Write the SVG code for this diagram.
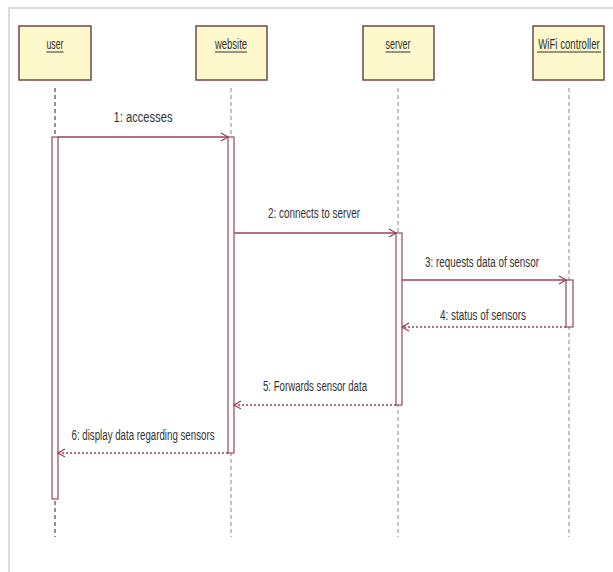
<svg xmlns="http://www.w3.org/2000/svg" width="613" height="572" viewBox="0 0 613 572">
<style>
.frame{stroke:#dcdcdc;stroke-width:2;fill:none}
.box{fill:#fdf9cc;stroke:#6e4a48;stroke-width:1.5}
.lbl{font-family:"Liberation Sans Narrow","Liberation Sans",Arial,sans-serif;font-size:14px;fill:#333;text-anchor:middle}
.ul{stroke:#333;stroke-width:1}
.life{stroke:#888;stroke-width:1;stroke-dasharray:4,3;fill:none}
.life.dark{stroke:#222}
.act{fill:#fff;stroke:#8b4a62;stroke-width:1.2}
.msg{stroke:#9c3f63;stroke-width:1.4;fill:none}
.ret{stroke:#9c3f63;stroke-width:1.4;fill:none;stroke-dasharray:2,2}
.mtext{font-family:"Liberation Sans Narrow","Liberation Sans",Arial,sans-serif;font-size:14px;fill:#333;text-anchor:middle}
</style>
<defs>
<marker id="open" markerWidth="10" markerHeight="10" refX="8" refY="5" orient="auto" markerUnits="userSpaceOnUse">
<path d="M1,1 L8,5 L1,9" fill="none" stroke="#9c3f63" stroke-width="1.3"/>
</marker>
</defs>
<rect width="613" height="572" fill="#fff"/>
<path class="frame" d="M9,572 L9,8 L613,8"/>

<g id="user">
<rect class="box" x="19" y="26" width="72" height="54"/>
<text class="lbl" x="55" y="49" textLength="17" lengthAdjust="spacingAndGlyphs">user</text>
<line class="ul" x1="46.5" y1="52" x2="63.5" y2="52"/>
<line class="life dark" x1="55" y1="88" x2="55" y2="537"/>
<rect class="act" x="52" y="137" width="6" height="362"/>
</g>
<g id="website">
<rect class="box" x="196" y="26" width="71" height="54"/>
<text class="lbl" x="231" y="49" textLength="32" lengthAdjust="spacingAndGlyphs">website</text>
<line class="ul" x1="215" y1="52" x2="247" y2="52"/>
<line class="life" x1="231" y1="88" x2="231" y2="537"/>
<rect class="act" x="228" y="137" width="6" height="316"/>
</g>
<g id="server">
<rect class="box" x="363" y="26" width="71" height="54"/>
<text class="lbl" x="398" y="49" textLength="25" lengthAdjust="spacingAndGlyphs">server</text>
<line class="ul" x1="385.5" y1="52" x2="410.5" y2="52"/>
<line class="life" x1="398" y1="88" x2="398" y2="537"/>
<rect class="act" x="396" y="233" width="6" height="172"/>
</g>
<g id="wifi">
<rect class="box" x="533" y="26" width="71" height="54"/>
<text class="lbl" transform="translate(569,49) scale(0.69,1)" x="0" y="0">WiFi controller</text>
<line class="ul" x1="537" y1="52" x2="601" y2="52"/>
<line class="life" x1="569" y1="88" x2="569" y2="537"/>
<rect class="act" x="566" y="280" width="7" height="47"/>
</g>

<g id="connectors">
<line class="msg" x1="58" y1="137" x2="228" y2="137" marker-end="url(#open)"/>
<text class="mtext" x="143" y="122" textLength="59" lengthAdjust="spacingAndGlyphs">1: accesses</text>
<line class="msg" x1="234" y1="233" x2="396" y2="233" marker-end="url(#open)"/>
<text class="mtext" x="314" y="218" textLength="92" lengthAdjust="spacingAndGlyphs">2: connects to server</text>
<line class="msg" x1="402" y1="280" x2="566" y2="280" marker-end="url(#open)"/>
<text class="mtext" x="482" y="267" textLength="114" lengthAdjust="spacingAndGlyphs">3: requests data of sensor</text>
<line class="ret" x1="566" y1="327" x2="402" y2="327" marker-end="url(#open)"/>
<text class="mtext" x="483" y="320" textLength="86" lengthAdjust="spacingAndGlyphs">4: status of sensors</text>
<line class="ret" x1="396" y1="405" x2="234" y2="405" marker-end="url(#open)"/>
<text class="mtext" x="315" y="391" textLength="104" lengthAdjust="spacingAndGlyphs">5: Forwards sensor data</text>
<line class="ret" x1="228" y1="453" x2="58" y2="453" marker-end="url(#open)"/>
<text class="mtext" x="143" y="440" textLength="143" lengthAdjust="spacingAndGlyphs">6: display data regarding sensors</text>
</g>
</svg>
